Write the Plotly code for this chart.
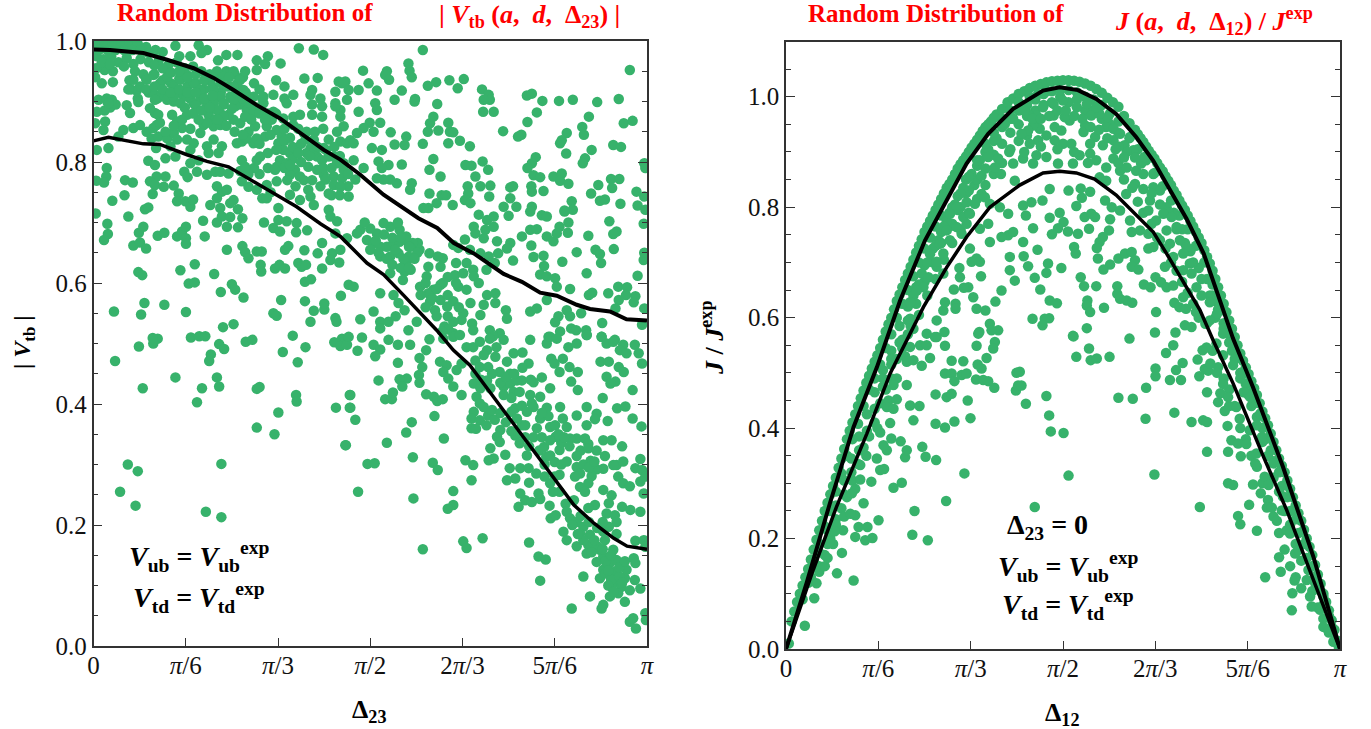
import math
import plotly.graph_objects as go

# Values: x in thousandths of pi, y in thousandths
vtb_upper_curve = [(0,986),(30,985),(90,980),(133,969),(181,955),(217,939),(253,919),(295,894),(337,872),(373,848),(416,820),(446,804),(482,779),(524,746),(587,707),(621,691),(651,666),(687,649),(741,615),(774,602),(807,584),(837,579),(873,564),(897,557),(933,553),(963,540),(1000,538)]
vtb_lower_curve = [(0,835),(27,841),(90,830),(120,829),(169,812),(205,801),(244,792),(289,768),(325,748),(367,726),(410,698),(446,677),(494,633),(524,614),(560,580),(597,544),(620,522),(650,489),(680,464),(711,426),(747,382),(789,330),(831,280),(868,233),(904,203),(940,178),(964,165),(1000,160)]
j_upper_curve = [(0,0),(37,119),(79,263),(122,402),(164,510),(206,631),(251,740),(284,800),(326,879),(365,933),(410,978),(464,1011),(494,1017),(527,1012),(560,996),(596,969),(632,927),(663,884),(693,833),(723,779),(754,716),(783,631),(807,562),(843,474),(897,330),(952,167),(1000,0)]
j_lower_curve = [(0,0),(49,143),(91,257),(146,390),(188,499),(218,559),(248,619),(290,691),(326,746),(368,800),(422,840),(464,862),(494,865),(524,862),(557,851),(596,822),(632,786),(663,755),(687,716),(723,656),(747,614),(771,559),(807,481),(862,348),(904,251),(952,125),(1000,0)]

vtb_dense_topleft = [(5,995),(20,995),(35,995),(50,995),(65,995),(80,995),(95,990),(112,985),(125,982),(148,992),(190,993),(205,985),(195,980),(155,975),(175,975),(240,977),(225,968),(260,977),(315,975),(371,988),(398,986),(415,977),(338,963),(295,968),(310,962),(295,952),
(5,975),(18,970),(32,975),(45,965),(60,972),(72,962),(85,970),(100,965),(118,968),(135,960),(150,965),(165,955),(180,958),(195,950),(210,945),(225,945),(240,950),(255,945),(270,940),(20,952),(35,950),(5,955),(75,950),(90,945),
(3,940),(15,930),(35,932),(65,935),(78,918),(68,920),(95,938),(110,945),(125,935),(140,930),(155,938),(170,925),(185,930),(200,920),(215,925),(230,915),(245,925),(260,930),(275,915),(290,930),(300,920),(330,935),(345,925),(381,938),(405,939),(305,905),(345,905),(395,895),
(80,905),(100,915),(115,905),(130,915),(145,900),(160,912),(175,905),(190,915),(205,900),(220,905),(235,895),(250,905),(265,895),(280,900),(295,890),(25,900),(30,890),(40,895),(20,885),
(63,920),(72,936),(84,925),(96,936),(108,944),(120,930),(133,941),(145,925),(157,936),(169,944),(181,930),(193,919),(205,936),(217,919),(229,908),(241,925),(253,950),(265,936),(274,950),(253,925),(265,908),(108,914),(120,908),(133,903),(145,908),(157,897),(169,908),(181,897),(193,903),(205,892),(217,897),(235,897),(247,908),(229,881),(253,870),(277,886),(289,881),(301,886),
(223,950),(235,941),(271,919),(289,908),(307,897),(325,883),(343,872),(361,861),(380,848),(398,837),(416,823),(434,809),(452,798),(443,933),(455,933),(437,916),(437,897),(446,886),(395,919),
(6,883),(3,864),(21,867),(18,853),(9,903),(24,905),(33,903),(27,897),(60,894),(66,881),(81,899),(54,853),(45,842),(72,856),(84,861),(96,850),(108,856),(105,839),(117,842),(133,839),(145,848),(160,856),(111,881),(102,889),(117,878),(111,903),(142,878),(151,867),(169,878),(184,894),(199,861),(208,878),(223,886),(217,859),(229,861),(244,878),(256,892),(265,864),(274,875),(268,834),(259,831),(280,850),(292,859),(289,831),(313,859),(310,842),(295,839),(277,839),(322,870),(331,853),(340,842),(334,831),(361,875),(373,878),(395,878),(413,875),(413,892),(437,892),(446,875),(452,859),(440,850),(425,837),(446,834),(458,831),(343,820),(355,815),(367,820),(383,837),(392,823),(404,809),(413,803),(425,809),(440,798),(452,787),(337,803),(349,798),(364,787),(373,776),(355,779),(331,792),(388,792),(404,787),(416,779),(434,776),(449,773),
(114,861),(169,837),(181,831),(175,820),(205,826),(208,815),(217,837),(232,826),(226,815),(139,826),(151,837),(193,848),(253,903),(283,903),(307,908),(325,911),(349,897),(361,911),(392,911),(410,905),(449,930),(458,903)]

vtb_band_extra = [(10,985),(25,985),(40,985),(55,985),(70,985),(85,985),(100,980),(15,965),(30,962),(55,958),(110,960),(125,955),(140,948),(155,950),(170,940),(185,945),(200,935),(215,940),(230,930),(245,940),(258,915),(270,905),(285,895),(300,880),(315,880),(250,888),(235,875),(220,870),(205,865),(190,870),(175,855),(160,870),(145,860),(130,850),(120,865),(95,920),(110,925),(125,920),(140,915),(155,920),(170,915),(185,915),(200,905),(215,910),(165,890),(180,880),(195,885),(210,890),(225,870),(240,860),(255,850),(270,845),(285,870),(310,870),(330,880),(320,845),(345,855),(355,840),(370,855),(385,850),(400,850),(415,855),(345,790),(360,805),(375,800),(385,815),(400,820),(415,790),(430,790),(445,810),(460,780),
(300,830),(315,815),(330,820),(345,835),(360,825),(375,830),(390,810),(405,825),(420,820),(435,825),(355,795),(370,815),(300,780),(315,790),(290,790),(280,780),(265,785),(305,740),(320,750),(350,770),(365,760),(380,770),(395,770),(410,760),(430,745),(445,745),(460,760)]

vtb_middle_left = [(6,820),(27,823),(99,802),(111,795),(130,806),(148,809),(113,823),(164,784),(170,775),(130,776),(114,776),(102,768),(111,762),(107,747),(127,759),(145,761),(154,748),(151,735),(166,735),(175,726),(180,738),(223,760),(232,751),(241,754),(223,740),(211,729),(253,737),(247,732),(229,724),
(187,784),(205,779),(220,784),(229,784),(244,781),(268,803),(274,792),(295,803),(301,809),(175,798),(190,803),(268,768),(280,759),(295,754),(313,740),(331,768),(328,787),(313,762),(355,746),(373,737),(334,724),(388,754),(392,743),(398,729),(425,721),(419,771),(434,762),(425,748),(446,759),(461,743),(428,710),(440,702),
(57,770),(71,766),(24,790),(23,776),(5,769),(19,766),(4,715),(34,736),(56,745),(63,710),(93,722),(99,725),(25,698),(26,681),(19,671),(82,683),(90,693),(72,662),(84,667),(95,657),(116,678),(128,683),(151,677),(160,685),(167,693),(167,674),(167,665),(201,677),(198,703),(223,700),(232,710),(247,709),(241,693),(261,692),(269,707),(261,722),(241,655),(269,661),(274,651),(280,641),(295,652),(304,652),(302,630),(303,619),(328,624),(336,630),(346,624),(346,655),(352,661),(370,633),(376,627),(384,630),(381,654),(405,649),(413,666),(431,649),(428,638),(413,624),(444,634),(446,655),(382,602),(393,606),(308,700),(325,691),(334,704),(349,702),(337,685),(367,699),(386,687),(366,684),(437,682),(461,597),
(37,553),(86,548),(92,567),(128,564),(167,552),(81,618),(88,613),(157,621),(183,631),(172,599),(183,601),(218,615),(250,598),(230,585),(256,589),(271,576),(234,527),(253,532),(339,572),(325,550),(331,546),(382,570),(392,536),(398,554),(417,556),(417,566),(437,542),(439,536),(447,579),(360,513)]

vtb_sparse_bottomleft = [(39,471),(82,495),(108,500),(116,508),(107,509),(148,444),(89,426),(176,510),(191,512),(202,512),(227,499),(236,491),(212,482),(209,471),(223,444),(196,426),(227,429),(187,403),(295,425),(300,428),(275,503),(287,506),(342,486),(383,494),(369,469),(366,415),(367,404),(334,386),(295,361),(327,350),(435,502),(449,508),(446,496),(458,498),(438,394),(463,415),(463,394),(456,332),(62,300),(80,289),(48,255),(76,232),(231,301),(203,222),(231,213)]

vtb_upper_right = [(595,985),(569,963),(571,951),(575,940),(487,951),(530,950),(527,944),(534,936),(497,930),(452,931),(461,919),(479,919),(512,918),(557,918),(604,926),(619,932),(643,935),(669,937),(658,922),(702,920),(544,903),(581,904),(580,900),(509,897),(512,886),(479,883),(621,896),(714,911),(716,903),(705,903),(704,883),(723,883),(783,910),(792,913),(811,901),(841,901),(866,903),(910,899),(949,904),(969,952),(895,875),(801,882),(784,866),(958,864),(974,868),(883,858),(886,845),(855,848),(843,831),(846,836),(773,845),(767,842),(740,851),(939,828),(953,825),(900,820),(854,814),(888,806),(884,798),(799,808),(792,798),(784,790),(831,776),(846,781),(843,769),(858,764),(795,778),(807,775),(758,760),(753,758),(791,760),(792,751),(813,752),(912,762),(935,772),(950,772),(937,757),(981,751),(899,748),(915,736),(924,738),(952,731),(983,728),(995,743),(997,721),(995,798),(997,790),(994,698),
(864,735),(866,721),(851,718),(858,700),(842,693),(857,683),(932,702),(945,685),(939,681),(894,678),(907,655),(915,648),(940,656),(917,633),(873,651),(891,616),(983,612),(994,638),(995,650),
(948,594),(964,593),(979,578),(962,580),(930,583),(901,584),(895,580),(976,568),(949,572),(943,558),(995,558),(991,531),(919,534),(861,590),(855,555),(881,550),(861,545),(840,545),(834,535),(863,525),(872,522),(890,522),(891,514),(918,511),(942,506),(822,511),(843,520),(789,553),(801,558),(819,572),(745,555),(747,541)]

vtb_middle_centre = [(676,760),(677,748),(671,737),(681,732),(699,760),(717,761),(715,743),(690,776),(672,795),(683,794),(703,801),(713,787),(649,729),(627,776),(607,787),(614,805),(680,826),(662,835),(641,831),(644,850),(650,849),(623,852),(641,865),(604,850),(608,864),(614,875),(595,830),(565,842),(562,828),(544,829),(537,849),(518,865),(499,865),(506,850),(488,856),(476,848),(464,836),(470,831),(503,823),(521,820),(515,801),(533,795),(557,796),(521,790),
(629,745),(637,745),(607,748),(620,732),(605,724),(596,724),(575,765),(572,754),(548,765),(536,771),(524,771),(512,773),(488,790),(470,803),(473,771),
(741,726),(753,740),(764,726),(750,711),(792,726),(789,718),(810,712),(819,710),(851,720),(696,713),(687,693),(711,704),(723,710),(708,688),(723,693),(690,682),(705,674),(729,669),(671,672),(774,677),(789,688),(801,689),(819,677),(831,669),(837,682),(753,666),(747,657),(791,662),(795,643),(813,645),(814,628),(807,614),(819,611),(847,635),(834,608),(837,594),(758,637),
(650,663),(659,658),(680,655),(699,649),(714,644),(731,649),(725,633),(710,622),(686,622),(674,633),(655,633),(631,641),(607,649),(622,644),(605,627),(627,627),(589,655),(586,666),(577,666),(565,677),(553,688),(536,693),(524,699),(512,682),(494,671),(482,688),(476,682),(458,674),
(506,666),(518,660),(530,660),(542,666),(553,668),(565,671),(518,644),(536,644),(551,649),(570,644),(572,660),(565,633),(562,619),(559,605),(573,622),(536,616),(518,583),(542,580),(470,594),(506,553),(482,540),(518,536),(533,536),(546,545),(562,555),(551,567),(584,536),(569,522),(518,525),
(590,594),(602,611),(614,589),(627,597),(605,583),(591,580),(627,572),(639,561),(617,555),(608,569),(631,600),(653,613),(668,616),(659,594),(674,589),(687,611),(696,600),(711,580),(726,583),(726,567),(705,564),(681,567),(668,550),(665,539),(684,533),(699,547),(650,536),(634,528),(650,517),(641,523),(686,522),(716,522),(734,517),(722,512),
(500,690),(510,670),(525,680),(540,675),(555,675),(570,660),(585,650),(500,655),(515,650),(530,640),(545,655),(560,640),(580,640),(540,630),(555,625),(570,625),(550,700),(490,700),(600,600),(612,575),(620,590),(640,580),(650,570),(620,545),(640,545),(600,560),(630,520),(660,560),(655,600),(640,610)]

vtb_lower_right = [(461,511),(485,510),(506,498),(518,490),(509,479),(477,488),(533,506),(550,498),(572,498),(607,507),(601,489),(550,468),(589,476),(594,461),(588,448),(566,442),(553,441),(558,429),(589,435),(515,439),(464,415),(464,394),(473,374),(455,332),(601,416),(615,412),(621,405),(631,408),(527,408),(539,408),(541,419),(616,380),(575,370),(565,353),(530,336),(633,343),(577,312),(495,301),(508,302),(613,303),(622,291),(478,255),(578,244),(595,160),(650,256),(650,233),(640,227),(668,173),(674,162),(703,178),(672,307),(686,299),(683,274),
(626,470),(638,464),(632,453),(641,442),(656,456),(665,467),(650,429),(665,415),(632,508),(650,511),(662,514),(674,494),(686,494),(698,503),(716,508),(741,506),(711,489),(728,494),
(690,472),(705,481),(726,478),(747,470),(759,484),(775,485),(789,506),(819,500),(825,511),(837,508),(698,461),(713,461),(734,453),(753,450),(774,439),(786,467),(810,444),(795,436),(827,475),(848,475),(833,467),(842,453),(860,461),(875,453),(863,437),(875,423),(858,494),(873,500),(891,514),(918,511),(927,500),(939,503),(957,498),(951,489),(963,484),(978,498),(985,484),(991,467),(916,470),(931,470),(949,461),(958,453),(927,445),(943,437),(934,434),(974,423),
(687,434),(699,426),(711,439),(717,426),(741,429),(753,434),(765,439),(759,420),(741,415),(789,415),(807,412),(825,426),(792,401),(692,412),(698,401),(687,387),(683,376),(698,373),(713,381),(725,374),(710,365),(683,360),(691,359),(762,393),(774,397),(755,387),(783,387),(765,376),(774,365),(762,348),(735,357),(729,346),(734,337),(717,327),(723,310),(714,307),(744,316),(752,294),(762,277),(747,274),(787,330),(805,323),(783,315),(771,294),(786,294),(818,313),(833,304),(842,324),(814,329),
(807,376),(801,360),(819,394),(822,380),(825,362),(834,365),(843,395),(848,376),(855,362),(873,381),(891,365),(873,343),(861,343),(888,343),(894,334),(845,336),(835,346),(891,395),(909,384),(920,410),(946,393),(961,396),(906,375),(929,372),(974,376),(990,363),(921,340),(936,340),(955,330),(880,323),(894,327),(909,323),(924,314),(873,314),(898,306),(873,296),(879,285),(921,293),(909,292),(900,281),(894,269),(879,263),(888,255),(921,258),(936,249),(945,299),(957,305),(939,299),(948,280),(957,269),(969,264),(979,294),(988,309),(991,291),(988,272),(997,280),(994,252),(833,280),(842,283),(825,269),(842,255),(787,270),
(771,252),(780,241),(768,230),(792,238),(807,243),(804,252),(824,232),(853,235),(826,211),(835,216),(868,241),(906,233),(894,228),(931,236),(955,230),(970,225),(988,222),(927,219),(942,216),(945,205),(931,197),(921,189),(855,222),(861,211),(873,205),(885,197),(849,189),(855,175),(873,165),(879,186),(897,184),(894,167),(903,170),(915,159),(891,153),(909,139),(924,175),(939,159),(979,174),(994,175),(997,164),(976,145),(979,137),(921,148),(933,137),(921,126),(915,112),(945,142),(942,123),(963,126),(960,112),(945,106),(936,98),(954,98),(969,92),(978,109),(988,95),(933,82),(948,87),(960,73),(921,68),(918,62),(885,115),(897,82),(864,62),(807,108),(804,148),(817,143),(787,171),(969,40),(975,46),(980,29),(997,54),(998,43)]

vtb_lower_right_extra = [(925,120),(935,110),(950,115),(930,100),(940,90),(955,105),(925,140),(910,165),(935,150),(950,130),(900,155),(905,175),(920,160),(885,175),(875,185),(865,200),(880,215),(895,205),(910,195),(920,205),(945,185),(960,140),(930,125),
(700,440),(720,450),(735,435),(755,410),(770,420),(705,395),(720,390),(735,385),(745,370),(755,355),(770,335),(780,345),(690,450),(745,445),(760,450),(775,460),(790,440),(795,395),(810,385),(780,365),(795,345),(810,345),(825,340),(840,350),(850,345),(860,330),(815,300),(825,315),(800,285),(815,280),(830,255),(845,300),(855,305),(870,280),(885,300),(895,295),(905,305)]

j_upper_rim_left = [(5,10),(10,50),(20,85),(30,115),(40,145),(50,180),(60,215),(70,250),(80,280),(90,310),(100,345),(110,380),(120,410),(130,440),(140,468),(150,495),(160,520),(170,545),(180,575),(190,600),(200,630),(210,655),(220,680),(230,705),(240,730),(250,755),(260,775),(270,795),(280,815),(290,835),(300,850),(310,870),(320,885),(330,900),(340,915),(350,930),(360,945),(370,955),(380,968),(390,978),(400,990),(410,997),(420,1005),(430,1010),(440,1016),(450,1020),(460,1023),(470,1026),(480,1028),(490,1029),(500,1030),
(15,68),(25,100),(35,130),(45,162),(55,198),(65,232),(75,265),(85,295),(95,328),(105,362),(115,395),(125,425),(135,454),(145,482),(155,508),(165,532),(175,560),(185,588),(195,615),(205,642),(215,668),(225,692),(235,718),(245,742),(255,765),(265,785),(275,805),(285,825),(295,842),(305,860),(315,878),(325,892),(335,908),(345,922),(355,938),(365,950),(375,962)]
j_upper_rim_right = [(510,1030),(520,1029),(530,1027),(540,1024),(550,1020),(560,1014),(570,1007),(580,998),(590,990),(600,982),(610,965),(620,952),(630,940),(640,925),(650,910),(660,895),(670,880),(680,865),(690,848),(700,830),(710,812),(720,795),(730,775),(740,755),(750,735),(760,710),(770,685),(780,655),(790,625),(800,595),(810,565),(820,535),(830,510),(840,485),(850,460),(860,430),(870,405),(880,375),(890,345),(900,320),(910,290),(920,260),(930,232),(940,200),(950,170),(960,135),(970,100),(980,70),(990,35),(995,15),(998,3),
(715,803),(725,785),(735,765),(745,745),(755,722),(765,698),(775,670),(785,640),(795,610),(805,580),(815,550),(825,522),(835,498),(845,472),(855,445),(865,418),(875,390),(885,360),(895,332),(905,305),(915,275),(925,246),(935,216),(945,185),(955,152),(965,118),(975,85),(985,52),(635,932),(645,918),(655,902),(665,888),(675,872),(685,856),(695,840),(705,822)]
j_band_left = [(30,90),(45,130),(60,175),(75,215),(90,260),(105,305),(118,345),(132,385),(146,425),(160,465),(175,505),(190,540),(205,585),(220,620),(235,655),(250,695),(265,725),(280,755),(295,790),(310,820),(325,850),(60,150),(75,190),(90,235),(105,280),(118,320),(132,360),(146,395),(160,435),(175,475),(190,515),(205,555),(220,595),(235,625),(250,665),(265,700),(280,735),(295,765),(310,795),(325,825),(340,840),(345,875),(360,900),(375,920),(390,945),(405,960),(420,975),(435,985),(450,995),(465,1005),(480,1010),(495,1012),(510,1012),(525,1008),(540,1000),(555,995),(570,985),(585,970),(600,955),
(360,870),(375,895),(390,915),(405,935),(420,950),(435,965),(450,975),(465,985),(480,990),(495,1000),(510,990),(525,995),(540,975),(555,975),(570,960),(585,950),(600,935),(345,850),(330,830),(315,800),(300,770),
(175,490),(190,525),(210,560),(225,585),(240,605),(255,640),(270,670),(285,705),(300,735),(315,760),(330,790),(345,815),(360,840),(375,860),(390,880),(405,905),(420,920),(435,930),(450,950),
(40,120),(50,160),(60,190),(70,222),(80,250),(90,285),(100,318),(110,350),(120,380),(130,408),(140,440),(150,470),(160,490),(170,515),(180,545),(190,570),(200,600),(210,625),(220,650),(230,675),(240,700),(250,725),(260,745),(270,765),(280,785),
(60,140),(70,170),(80,200),(90,225),(100,255),(110,275),(120,305),(130,335),(140,365),(150,385),(160,410),(170,445),(180,470),(190,490),(200,525),(210,545),(220,570),(70,150),(85,190),(105,240),(125,290),(145,350),(165,400),(185,450),(200,490),(215,530),(230,580),
(230,640),(245,680),(260,715),(275,740),(290,775),(305,805),(320,835),(335,860),(350,885),(365,905),(380,925),(395,950),(410,960),(425,985),(440,1000),(455,1005),(470,1010),(240,660),(255,700),(270,730),(285,765),(300,800),(315,825),(330,855),(345,885),(360,915),(375,935),(390,960),(405,975),(420,990)]
j_band_right = [(620,925),(635,905),(650,885),(665,862),(680,838),(695,812),(710,785),(725,760),(740,730),(755,700),(770,660),(785,620),(800,570),(815,530),(830,480),(845,445),(860,400),(875,360),(890,320),(905,275),(920,235),(935,190),(950,150),(965,105),(980,60),(715,760),(700,790),(730,720),(745,690),(760,670),(775,630),(790,590),(805,540),(820,500),(835,460),(850,420),(865,380),(880,340),(895,295),(910,250),(925,210),(940,165),(955,120),(970,80),(985,40),
(603,866),(566,854),(578,848),(576,812),(588,800),(614,824),(603,794),(630,842),(645,833),(663,836),(657,812),(675,830),(687,800),(663,860),(632,866),(641,879),(615,872),(578,872),(560,885),(549,897),(530,894),(518,879),(491,879),(452,894),(470,891),(446,879),(428,888),(500,915),(515,915),(485,921),(470,930),(483,966),(485,945),(497,939),(512,957),(503,963),(540,948),(537,936),(558,927),(549,915),(572,912),(591,921),(611,912),(591,888),(578,945),(581,963),(591,942),(603,933),(621,927),(627,903),(647,891),(551,966),(566,969),(458,942),(446,948),(437,939),(455,921),(440,915),(452,966),(437,969),(464,981),(483,987),(500,993),(525,981),(543,987),(560,981),(425,933),
(770,640),(780,615),(790,580),(800,555),(810,525),(820,490),(830,465),(840,440),(850,405),(860,375),(870,350),(880,310),(890,285),(900,250),(910,225),(920,190),(930,160),(940,125),(950,105),(960,75),(970,55),(980,30),(990,15),
(800,470),(810,440),(820,400),(830,380),(840,350),(850,330),(860,300),(870,270),(880,240),(890,210),(900,180),(910,150),(920,130),(930,110),(770,540),(780,510),(790,490),(800,440),(760,590),(745,600),(735,625),(725,645),(715,665),(705,685),(695,700),(685,725),(670,745),(660,770),(645,790),(635,810),(625,835),(610,850),(600,880),(750,670),(765,640),(775,600),(735,700),(720,735),(705,760),(690,790),(675,805),(660,825),(645,860),(630,890),(615,900),(600,910),
(430,975),(445,960),(460,960),(475,965),(490,975),(505,975),(520,965),(535,960),(550,945),(565,940),(580,925),(595,905),(610,890),(430,900),(460,910),(490,905),(520,900),(545,880)]
j_inner_left = [(403,900),(388,860),(410,879),(353,857),(365,891),(383,888),(377,872),(413,848),(353,824),(386,800),(401,788),(368,806),(401,749),(368,737),(389,746),(410,755),(365,770),(350,761),(326,770),(317,752),(332,725),(344,707),(350,701),(335,701),(313,690),(314,673),(352,675),(329,655),(303,651),(321,654),(338,637),(389,649),(378,629),(404,710),(404,686),(413,667),(272,595),(284,613),(287,628),(306,625),(306,616),(344,616),(360,613),(286,574),(347,571),(368,589),(383,577),(371,577),(254,571),(272,565),(224,598),(284,680),(272,692),(257,673),(248,655),(236,649),(224,628),(272,701),(284,716),(296,740),(278,734),(308,764),(320,782),(332,788),(341,806),(359,818),(326,809),(308,800),(296,788),(290,758),
(122,124),(92,137),(101,174),(75,165),(34,42),(51,92),(55,119),(140,264),(167,233),(147,221),(131,221),(125,242),(116,245),(103,215),(88,213),(125,203),(143,197),(156,201),(79,195),(232,250),(228,207),(256,197),(289,268),(322,318),(194,292),(209,301),(154,303),(134,307),(119,282),(170,324),(177,326),(164,345),(134,333),(215,347),(252,348),(271,342),(246,366),(218,360),(182,360),(176,369),(207,376),(190,381),(170,392),(188,409),(230,414),(270,408),(287,401),(304,412),(333,418),(224,441),(241,440),(270,461),(290,456),(299,462),(328,450),(376,473),(343,488),(356,487),(365,485),(415,468),(419,477),(416,500),(287,499),(299,499),(304,485),(317,496),(326,499),(320,521),(299,522),(245,513),(260,527),(287,549),(344,549),(377,556),(374,544),(362,527),(346,515),(353,508),(349,574),(218,478),(194,478),(200,452),(182,438),(194,435),(218,520),(230,523),(242,550),(254,550),(269,565),(224,547)]
j_inner_right = [(476,833),(510,830),(532,834),(549,828),(534,817),(524,802),(463,812),(443,809),(428,803),(433,785),(494,790),(476,781),(501,773),(491,762),(446,762),(480,751),(509,756),(527,752),(547,761),(539,782),(551,788),(558,782),(585,778),(583,758),(572,746),(566,737),(561,726),(520,728),(523,716),(454,723),(428,737),(429,711),(437,693),(473,698),(470,681),(497,690),(449,672),(459,651),(476,631),(489,626),(532,673),(538,657),(560,657),(544,631),(543,622),(549,610),(574,618),(445,598),(475,599),(467,598),(463,586),(543,581),(518,567),(563,707),(585,696),(573,687),(600,707),(612,716),(624,719),(630,704),(624,692),(636,687),(598,657),(598,643),(603,634),(615,631),(625,627),(668,610),(646,660),(658,655),(620,562),(666,573),(703,573),(720,586),(732,583),(701,627),(710,619),(722,616),(740,610),(757,589),(667,673),(677,664),(687,655),(699,658),(717,686),(732,680),(741,655),(717,637),(750,640),(765,628),(778,607),(789,571),(765,595),(684,692),(663,728),(654,725),(699,710),(621,776),(639,758),(624,755),(654,794),(654,752),(668,776),(681,788),(696,782),(705,764),(687,758),(675,740),(711,740),(723,728),(729,698),(717,716),(693,734),
(519,566),(547,544),(524,529),(550,523),(561,526),(584,529),(686,536),(699,550),(716,518),(743,524),(704,505),(667,508),(667,494),(693,487),(713,487),(746,494),(650,473),(600,455),(626,453),(470,458),(433,444),(425,477),(422,502),(475,423),(478,394),(501,391),(510,314),(665,316),(649,417),(701,428),(732,411),(753,414),(760,411),(449,257),(747,257),(760,357),(798,357),(821,349),(797,404),(792,431),(760,465),(780,447),(756,507),(762,504),(752,541),(778,500),(766,517),(784,463),(798,456),(813,438),(819,417),(837,396),(804,378),(816,372),(831,371),(849,354),(847,336),(864,312),(871,297),(843,298),(798,300),(807,297),(857,282),(836,261),(868,256),(877,256),(895,251),(886,232),(850,214),(816,241),(820,226),(904,215),(919,173),(890,166),(893,140),(865,130),(918,124),(914,101),(913,70),(949,77),(946,95),(964,71),(970,40),(979,34),(988,13),(759,546),(777,553),(789,532),(807,514),(826,499),(789,480),(826,465),(838,456),(856,426),(859,384),(880,336),(897,276),(910,209),(925,179),(943,143),(958,119),(970,95)]

vtb_clouds = [vtb_dense_topleft, vtb_band_extra, vtb_middle_left, vtb_sparse_bottomleft, vtb_upper_right, vtb_middle_centre, vtb_lower_right, vtb_lower_right_extra]
j_clouds = [j_upper_rim_left, j_upper_rim_right, j_band_left, j_band_right, j_inner_left, j_inner_right]

pi_labels = ["0", "<i>π</i>/6", "<i>π</i>/3", "<i>π</i>/2", "2<i>π</i>/3", "5<i>π</i>/6", "<i>π</i>"]
pi_sixths = [0, 1, 2, 3, 4, 5, 6]
vtb_ticks = [0.0, 0.2, 0.4, 0.6, 0.8, 1.0]
j_ticks = [0.0, 0.2, 0.4, 0.6, 0.8, 1.0]

W, H = 1371, 729
SERIF = "Liberation Serif"
GREEN = "#37B26B"
FRAME = "#333333"


def xs(pts):
    return [p[0] * math.pi / 1000 for p in pts]


def ys(pts):
    return [p[1] / 1000 for p in pts]


fig = go.Figure()
for clouds, curves, xa, ya in [
    (vtb_clouds, [vtb_upper_curve, vtb_lower_curve], "x", "y"),
    (j_clouds, [j_upper_curve, j_lower_curve], "x2", "y2"),
]:
    merged = [p for c in clouds for p in c]
    fig.add_trace(go.Scatter(x=xs(merged), y=ys(merged), mode="markers", xaxis=xa, yaxis=ya,
                             marker=dict(size=10.5, color=GREEN, line=dict(width=0)), showlegend=False))
    for i, c in enumerate(curves):
        fig.add_trace(go.Scatter(x=xs(c), y=ys(c), mode="lines", xaxis=xa, yaxis=ya,
                                 line=dict(color="black", width=4 if i == 0 else 3.5), showlegend=False))


def xaxis(x0, x1, anchor):
    return dict(domain=[x0 / W, x1 / W], range=[0, math.pi], tickmode="array", anchor=anchor,
                tickvals=[k * math.pi / 6 for k in pi_sixths], ticktext=pi_labels,
                ticks="inside", ticklen=8, tickcolor=FRAME, tickwidth=1, ticklabelstandoff=-4,
                showgrid=False, zeroline=False, showline=True, linecolor=FRAME, linewidth=1.5, mirror=True,
                tickfont=dict(family=SERIF, size=25, color="#111"))


def yaxis(y_top, y_bot, top, ticks, anchor):
    return dict(domain=[1 - y_bot / H, 1 - y_top / H], range=[0, top], tickmode="array",
                tickvals=ticks, ticktext=["%.1f" % t for t in ticks],
                ticks="inside", ticklen=9, tickcolor=FRAME, tickwidth=1, anchor=anchor,
                minor=dict(dtick=0.05, ticks="inside", ticklen=5, tickcolor=FRAME, tickwidth=1),
                showgrid=False, zeroline=False, showline=True, linecolor=FRAME, linewidth=1.5, mirror="ticks",
                tickfont=dict(family=SERIF, size=25, color="#111"))


def ann(px, py, text, size=21, color="black", anchor="center", angle=0):
    return dict(x=px / W, y=1 - py / H, xref="paper", yref="paper", text=text, showarrow=False,
                xanchor=anchor, yanchor="middle", textangle=angle,
                font=dict(family=SERIF, size=size, color=color))


RED = "#FF0000"
NB = "\u00a0"
annotations = [
    ann(115, 13, "<b>Random Distribution of</b>", 25, RED, "left"),
    ann(437, 16, f"<b>|{NB}<i>V</i></b><sub><b>tb</b></sub><b>{NB}(<i>a</i>,{NB}{NB}<i>d</i>,{NB}{NB}Δ<sub>23</sub>){NB}|</b>", 26, RED, "left"),
    ann(806, 14, "<b>Random Distribution of</b>", 25, RED, "left"),
    ann(1113, 21, f"<b><i>J</i>{NB}(<i>a</i>,{NB}{NB}<i>d</i>,{NB}{NB}Δ<sub>12</sub>){NB}/{NB}<i>J</i><sup>exp</sup></b>", 26, RED, "left"),
    ann(369, 711, "<b>Δ<sub>23</sub></b>", 26),
    ann(1062, 714, "<b>Δ<sub>12</sub></b>", 26),
    ann(24, 342, f"<b>|{NB}<i>V</i><sub>tb</sub>{NB}|</b>", 24, angle=-90),
    ann(712, 338, f"<b><i>J</i>{NB}/{NB}<i>J</i><sup>exp</sup></b>", 26, angle=-90),
    ann(127, 556, f"<b><i>V</i><sub>ub</sub>{NB}={NB}<i>V</i><sub>ub</sub><sup>exp</sup></b>", 28, anchor="left"),
    ann(131, 597, f"<b><i>V</i><sub>td</sub>{NB}={NB}<i>V</i><sub>td</sub><sup>exp</sup></b>", 28, anchor="left"),
    ann(1005, 526, f"<b>Δ<sub>23</sub>{NB}={NB}0</b>", 28, anchor="left"),
    ann(996, 566, f"<b><i>V</i><sub>ub</sub>{NB}={NB}<i>V</i><sub>ub</sub><sup>exp</sup></b>", 28, anchor="left"),
    ann(1000, 604, f"<b><i>V</i><sub>td</sub>{NB}={NB}<i>V</i><sub>td</sub><sup>exp</sup></b>", 28, anchor="left"),
]

fig.update_layout(
    width=W, height=H, margin=dict(l=0, r=0, t=0, b=0, autoexpand=False),
    paper_bgcolor="white", plot_bgcolor="white", showlegend=False,
    xaxis=xaxis(93.5, 647, "y"), yaxis=yaxis(41, 646, 1.0, vtb_ticks, "x"),
    xaxis2=xaxis(786, 1340, "y2"), yaxis2=yaxis(41.5, 649, 1.1, j_ticks, "x2"),
    annotations=annotations,
)

fig.write_html("out.html", config={"displayModeBar": False},
               post_script="document.body.style.margin='0';document.body.style.overflow='hidden';")
